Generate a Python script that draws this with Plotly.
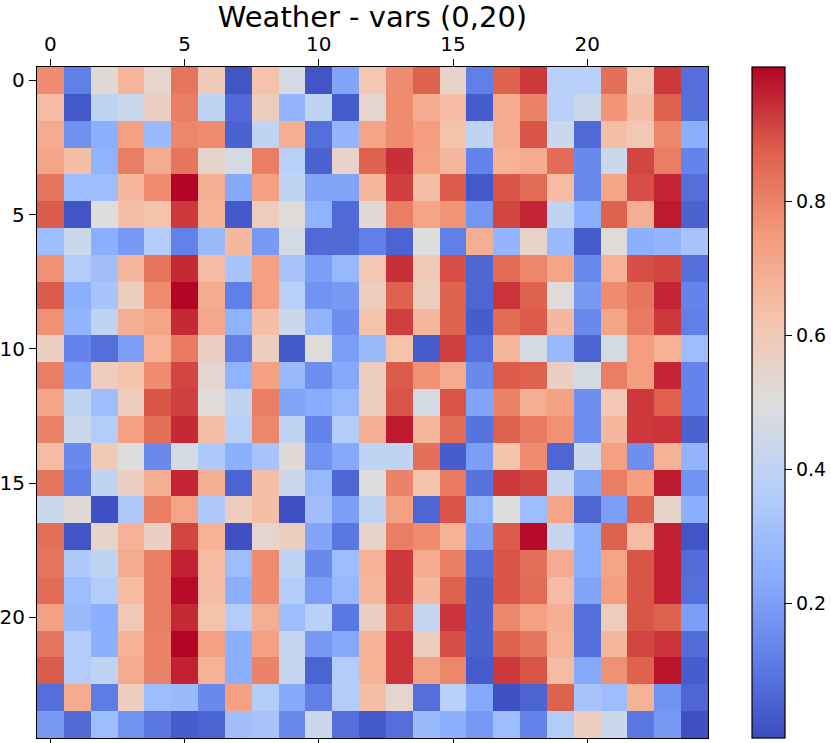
import plotly.graph_objects as go

title_text = "Weather - vars (0,20)"
col_idx = list(range(25))
row_idx = list(range(25))
tick_vals = [0, 5, 10, 15, 20]
cbar_ticks = [0.2, 0.4, 0.6, 0.8]

row_00 = [0.78,0.12,0.52,0.67,0.54,0.83,0.60,0.02,0.63, 0.47,0.02,0.22,0.61,0.78,0.87,0.55,0.12, 0.87,0.93,0.38,0.38,0.84,0.61,0.93,0.08]
row_01 = [0.65,0.03,0.40,0.44,0.57,0.81,0.40,0.07,0.58, 0.27,0.40,0.035,0.54,0.78,0.70,0.65,0.035, 0.70,0.80,0.38,0.44,0.76,0.64,0.87,0.08]
row_02 = [0.70,0.165,0.25,0.73,0.29,0.79,0.78,0.05,0.40, 0.69,0.08,0.27,0.72,0.78,0.74,0.63,0.40, 0.70,0.89,0.44,0.07,0.64,0.61,0.79,0.25]
row_03 = [0.72,0.64,0.26,0.81,0.70,0.83,0.55,0.47,0.81, 0.38,0.05,0.55,0.87,0.94,0.73,0.66,0.13, 0.68,0.70,0.85,0.145,0.44,0.91,0.81,0.13]
row_04 = [0.83,0.30,0.30,0.66,0.78,1.0,0.69,0.23,0.73, 0.40,0.22,0.22,0.66,0.92,0.64,0.88,0.03, 0.89,0.85,0.65,0.145,0.72,0.90,0.955,0.08]
row_05 = [0.88,0.02,0.50,0.64,0.63,0.93,0.68,0.03,0.59, 0.51,0.26,0.07,0.52,0.81,0.72,0.76,0.18, 0.91,0.955,0.40,0.25,0.87,0.69,0.97,0.05]
row_06 = [0.30,0.44,0.25,0.19,0.36,0.125,0.29,0.66,0.19, 0.47,0.07,0.07,0.12,0.055,0.50,0.12,0.69, 0.27,0.55,0.29,0.035,0.51,0.25,0.27,0.33]
row_07 = [0.77,0.36,0.31,0.66,0.83,0.95,0.65,0.33,0.73, 0.33,0.20,0.28,0.61,0.94,0.60,0.90,0.06, 0.85,0.79,0.72,0.145,0.68,0.90,0.91,0.08]
row_08 = [0.88,0.25,0.33,0.58,0.78,1.0,0.70,0.12,0.73, 0.38,0.17,0.19,0.58,0.87,0.58,0.87,0.06, 0.935,0.87,0.51,0.19,0.78,0.83,0.955,0.13]
row_09 = [0.77,0.27,0.40,0.69,0.72,0.95,0.71,0.26,0.64, 0.44,0.27,0.16,0.63,0.92,0.66,0.87,0.04, 0.85,0.88,0.66,0.145,0.72,0.82,0.93,0.12]
row_10 = [0.57,0.13,0.08,0.20,0.68,0.82,0.57,0.12,0.58, 0.03,0.51,0.20,0.29,0.63,0.04,0.92,0.08, 0.67,0.47,0.28,0.055,0.47,0.74,0.68,0.30]
row_11 = [0.81,0.20,0.59,0.63,0.78,0.91,0.54,0.26,0.73, 0.29,0.16,0.23,0.58,0.88,0.77,0.70,0.145, 0.88,0.87,0.57,0.47,0.81,0.74,0.955,0.13]
row_12 = [0.72,0.40,0.30,0.58,0.89,0.92,0.51,0.40,0.81, 0.22,0.24,0.28,0.58,0.89,0.47,0.89,0.22, 0.80,0.69,0.73,0.16,0.61,0.93,0.875,0.13]
row_13 = [0.80,0.44,0.36,0.73,0.84,0.95,0.64,0.38,0.79, 0.40,0.13,0.36,0.69,0.97,0.66,0.85,0.09, 0.87,0.82,0.77,0.16,0.66,0.93,0.935,0.05]
row_14 = [0.65,0.145,0.60,0.50,0.145,0.47,0.35,0.25,0.33, 0.52,0.17,0.23,0.40,0.40,0.84,0.04,0.20, 0.63,0.78,0.06,0.44,0.73,0.16,0.68,0.27]
row_15 = [0.83,0.12,0.40,0.57,0.69,0.955,0.69,0.055,0.64, 0.44,0.28,0.06,0.50,0.80,0.63,0.82,0.09, 0.93,0.91,0.42,0.22,0.81,0.74,0.97,0.17]
row_16 = [0.44,0.52,0.01,0.35,0.81,0.72,0.35,0.58,0.64, 0.01,0.31,0.20,0.40,0.73,0.06,0.89,0.26, 0.50,0.30,0.72,0.06,0.20,0.87,0.55,0.25]
row_17 = [0.84,0.02,0.55,0.68,0.57,0.91,0.68,0.01,0.54, 0.58,0.22,0.10,0.55,0.81,0.78,0.68,0.20, 0.88,0.99,0.42,0.25,0.87,0.65,0.96,0.02]
row_18 = [0.83,0.35,0.40,0.70,0.81,0.96,0.65,0.30,0.78, 0.40,0.145,0.30,0.68,0.93,0.70,0.81,0.08, 0.89,0.84,0.70,0.25,0.72,0.89,0.96,0.075]
row_19 = [0.85,0.30,0.36,0.65,0.81,0.99,0.65,0.25,0.78, 0.36,0.20,0.28,0.66,0.93,0.66,0.87,0.05, 0.89,0.85,0.65,0.22,0.74,0.89,0.96,0.08]
row_20 = [0.73,0.29,0.25,0.60,0.81,0.95,0.63,0.36,0.69, 0.30,0.38,0.10,0.57,0.89,0.42,0.935,0.05, 0.79,0.73,0.69,0.08,0.59,0.89,0.87,0.20]
row_21 = [0.83,0.36,0.25,0.68,0.80,1.0,0.73,0.25,0.73, 0.42,0.19,0.23,0.68,0.935,0.58,0.90,0.05, 0.87,0.83,0.68,0.08,0.66,0.91,0.935,0.075]
row_22 = [0.88,0.36,0.40,0.70,0.80,0.96,0.68,0.25,0.80, 0.42,0.055,0.36,0.68,0.935,0.73,0.79,0.035, 0.93,0.89,0.65,0.23,0.77,0.87,0.98,0.04]
row_23 = [0.08,0.70,0.11,0.58,0.30,0.29,0.145,0.73,0.36, 0.23,0.12,0.36,0.64,0.54,0.08,0.38,0.23, 0.01,0.055,0.87,0.33,0.30,0.68,0.17,0.06]
row_24 = [0.19,0.07,0.30,0.17,0.10,0.035,0.055,0.31,0.33, 0.145,0.44,0.08,0.03,0.08,0.29,0.25,0.19, 0.30,0.13,0.36,0.58,0.44,0.10,0.19,0.01]

rows = [row_00, row_01, row_02, row_03, row_04, row_05, row_06, row_07, row_08,
        row_09, row_10, row_11, row_12, row_13, row_14, row_15, row_16, row_17,
        row_18, row_19, row_20, row_21, row_22, row_23, row_24]

coolwarm = [
    [0.0, "rgb(59,76,192)"],
    [0.125, "rgb(98,130,234)"],
    [0.25, "rgb(141,176,254)"],
    [0.375, "rgb(184,208,249)"],
    [0.5, "rgb(221,221,221)"],
    [0.625, "rgb(245,196,173)"],
    [0.75, "rgb(244,154,123)"],
    [0.875, "rgb(222,96,77)"],
    [1.0, "rgb(180,4,38)"],
]

W, H = 831, 743
ML, MR, MT, MB = 37, 123, 67, 5
plot_w = W - ML - MR

fig = go.Figure(go.Heatmap(
    z=rows, x=col_idx, y=row_idx,
    colorscale=coolwarm, zmin=0.0, zmax=1.0,
    hoverinfo="skip",
    colorbar=dict(
        x=(752 - ML) / plot_w, xanchor="left", xref="paper",
        y=0.5, yanchor="middle", len=1.0, lenmode="fraction",
        thickness=33, outlinewidth=1.2, outlinecolor="black",
        tickvals=cbar_ticks, ticktext=[f"{t:.1f}" for t in cbar_ticks],
        ticks="outside", ticklen=7, tickwidth=1.3, tickcolor="black",
        tickfont=dict(family="DejaVu Sans", size=19, color="black"),
        xpad=0, ypad=0,
    ),
))

fig.update_layout(
    width=W, height=H,
    margin=dict(l=ML, r=MR, t=MT, b=MB, autoexpand=False),
    paper_bgcolor="white", plot_bgcolor="white",
    title=dict(text=title_text, x=(ML + plot_w / 2) / W, xanchor="center",
               y=1 - 17 / H, yanchor="middle", yref="container",
               font=dict(family="DejaVu Sans", size=29, color="black")),
    font=dict(family="DejaVu Sans", color="black"),
)
fig.update_xaxes(
    side="top", range=[-0.5, 24.5], tickvals=tick_vals,
    ticks="outside", ticklen=7, tickwidth=1.3, tickcolor="black",
    showline=True, linecolor="black", linewidth=1.3, mirror="ticks",
    showgrid=False, zeroline=False,
    tickfont=dict(family="DejaVu Sans", size=20, color="black"),
)
fig.update_yaxes(
    range=[24.5, -0.5], tickvals=tick_vals,
    ticks="outside", ticklen=7, tickwidth=1.3, tickcolor="black",
    showline=True, linecolor="black", linewidth=1.3, mirror=True,
    showgrid=False, zeroline=False,
    tickfont=dict(family="DejaVu Sans", size=20, color="black"),
)

fig.write_html("out.html",
               config={"displayModeBar": False},
               post_script="document.body.style.margin='0';document.body.style.overflow='hidden';")
